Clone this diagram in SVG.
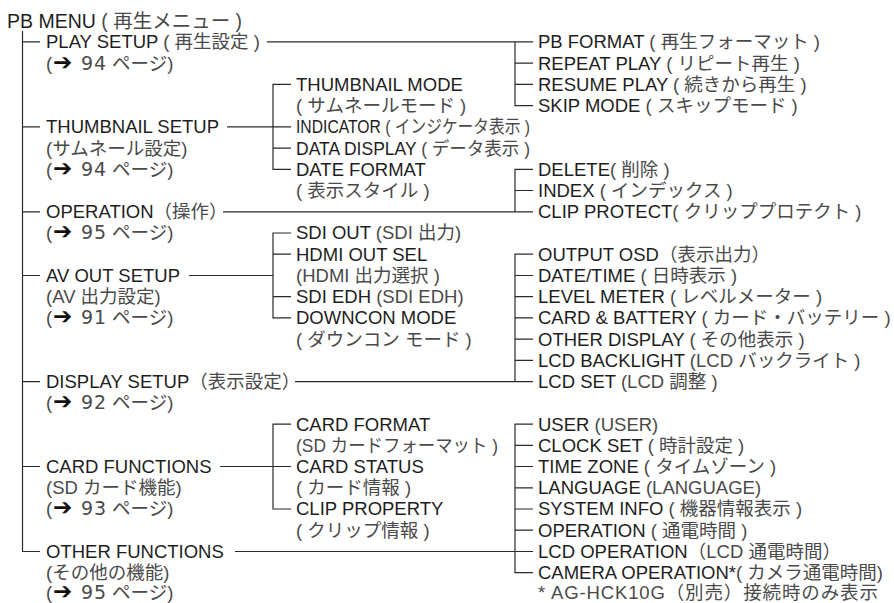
<svg xmlns="http://www.w3.org/2000/svg" width="894" height="603" viewBox="0 0 894 603">
<style>
text{font-family:"Liberation Sans","Noto Sans CJK JP",sans-serif;font-size:18.5px;fill:#1e1e1e}
.jp{fill:#4a4a4a}
.ar{font-family:"DejaVu Sans",sans-serif;font-size:23px;fill:#111}
.num{font-family:"DejaVu Sans",sans-serif;font-size:19px;letter-spacing:1px;fill:#4a4a4a}
.title{font-size:19.5px}
.c path{fill:none;stroke:#2a2a2a;stroke-width:1.2}
</style>
<rect width="894" height="603" fill="#fff"/>
<g class="c" id="connectors">
<path d="M22.5 31V551.5H40M22.5 41.9H40M22.5 126.9H40M22.5 211.8H40M22.5 275.5H40M22.5 381.6H40M22.5 466.5H40"/>
<path d="M267 41.9H533M515 41.9V105.6H533M515 63.2H533M515 84.4H533"/>
<path d="M227 126.9H291M291 84.4H273V169.3H291M273 148.1H291"/>
<path d="M223 211.8H533M533 169.3H515V211.8M515 190.5H533"/>
<path d="M189 275.5H273M291 233H273V317.9H291M273 254.2H291M273 296.7H291"/>
<path d="M295 381.6H533M533 254.2H515V381.6M515 275.5H533M515 296.7H533M515 317.9H533M515 339.2H533M515 360.4H533"/>
<path d="M220 466.5H291M291 424.1H273V509H291"/>
<path d="M235 551.5H533M533 424.1H515V572.7H533M515 445.3H533M515 466.5H533M515 487.8H533M515 509H533M515 530.2H533"/>
</g>
<g id="pb-menu"><text class="title" x="7" y="27.7">PB MENU<tspan class="jp"> ( 再生メニュー )</tspan></text></g>
<g id="play-setup"><text x="46" y="48.3">PLAY SETUP<tspan class="jp"> ( 再生設定 )</tspan></text><text x="46" y="69.6"><tspan class="jp">(</tspan><tspan class="ar" x="53">➔</tspan><tspan class="num" x="81">94</tspan><tspan class="jp" x="112">ページ)</tspan></text></g>
<g id="thumbnail-setup"><text x="46" y="133.3">THUMBNAIL SETUP</text><text x="46" y="154.5" class="jp">(サムネール設定)</text><text x="46" y="175.7"><tspan class="jp">(</tspan><tspan class="ar" x="53">➔</tspan><tspan class="num" x="81">94</tspan><tspan class="jp" x="112">ページ)</tspan></text></g>
<g id="operation"><text x="46" y="218.2">OPERATION<tspan class="jp">（操作）</tspan></text><text x="46" y="239.4"><tspan class="jp">(</tspan><tspan class="ar" x="53">➔</tspan><tspan class="num" x="81">95</tspan><tspan class="jp" x="112">ページ)</tspan></text></g>
<g id="av-out-setup"><text x="46" y="281.9">AV OUT SETUP</text><text x="46" y="303.1" class="jp">(AV 出力設定)</text><text x="46" y="324.3"><tspan class="jp">(</tspan><tspan class="ar" x="53">➔</tspan><tspan class="num" x="81">91</tspan><tspan class="jp" x="112">ページ)</tspan></text></g>
<g id="display-setup"><text x="46" y="388">DISPLAY SETUP<tspan class="jp">（表示設定）</tspan></text><text x="46" y="409.2"><tspan class="jp">(</tspan><tspan class="ar" x="53">➔</tspan><tspan class="num" x="81">92</tspan><tspan class="jp" x="112">ページ)</tspan></text></g>
<g id="card-functions"><text x="46" y="472.9">CARD FUNCTIONS</text><text x="46" y="494.2" class="jp">(SD カード機能)</text><text x="46" y="515.4"><tspan class="jp">(</tspan><tspan class="ar" x="53">➔</tspan><tspan class="num" x="81">93</tspan><tspan class="jp" x="112">ページ)</tspan></text></g>
<g id="other-functions"><text x="46" y="557.9">OTHER FUNCTIONS</text><text x="46" y="579.1" class="jp">(その他の機能)</text><text x="46" y="598.8"><tspan class="jp">(</tspan><tspan class="ar" x="53">➔</tspan><tspan class="num" x="81">95</tspan><tspan class="jp" x="112">ページ)</tspan></text></g>
<g id="thumbnail-mode"><text x="296" y="90.8">THUMBNAIL MODE</text><text x="296" y="112" class="jp">( サムネールモード )</text></g>
<g id="indicator"><text x="296" y="133.3" textLength="234" lengthAdjust="spacingAndGlyphs">INDICATOR<tspan class="jp"> ( インジケータ表示 )</tspan></text></g>
<g id="data-display"><text x="296" y="154.5" textLength="234" lengthAdjust="spacingAndGlyphs">DATA DISPLAY<tspan class="jp"> ( データ表示 )</tspan></text></g>
<g id="date-format"><text x="296" y="175.7">DATE FORMAT</text><text x="296" y="196.9" class="jp">( 表示スタイル )</text></g>
<g id="sdi-out"><text x="296" y="239.4">SDI OUT<tspan class="jp"> (SDI 出力)</tspan></text></g>
<g id="hdmi-out-sel"><text x="296" y="260.6">HDMI OUT SEL</text><text x="296" y="281.9" class="jp">(HDMI 出力選択 )</text></g>
<g id="sdi-edh"><text x="296" y="303.1">SDI EDH<tspan class="jp"> (SDI EDH)</tspan></text></g>
<g id="downcon-mode"><text x="296" y="324.3">DOWNCON MODE</text><text x="296" y="345.6" class="jp">( ダウンコン モード )</text></g>
<g id="card-format"><text x="296" y="430.5">CARD FORMAT</text><text x="296" y="451.7" class="jp" textLength="202" lengthAdjust="spacingAndGlyphs">(SD カードフォーマット )</text></g>
<g id="card-status"><text x="296" y="472.9">CARD STATUS</text><text x="296" y="494.2" class="jp">( カード情報 )</text></g>
<g id="clip-property"><text x="296" y="515.4">CLIP PROPERTY</text><text x="296" y="536.6" class="jp">( クリップ情報 )</text></g>
<g id="pb-format"><text x="538" y="48.3">PB FORMAT<tspan class="jp"> ( 再生フォーマット )</tspan></text></g>
<g id="repeat-play"><text x="538" y="69.6">REPEAT PLAY<tspan class="jp"> ( リピート再生 )</tspan></text></g>
<g id="resume-play"><text x="538" y="90.8">RESUME PLAY<tspan class="jp"> ( 続きから再生 )</tspan></text></g>
<g id="skip-mode"><text x="538" y="112">SKIP MODE<tspan class="jp"> ( スキップモード )</tspan></text></g>
<g id="delete"><text x="538" y="175.7">DELETE<tspan class="jp">( 削除 )</tspan></text></g>
<g id="index"><text x="538" y="196.9">INDEX<tspan class="jp"> ( インデックス )</tspan></text></g>
<g id="clip-protect"><text x="538" y="218.2">CLIP PROTECT<tspan class="jp">( クリッププロテクト )</tspan></text></g>
<g id="output-osd"><text x="538" y="260.6">OUTPUT OSD<tspan class="jp">（表示出力）</tspan></text></g>
<g id="date-time"><text x="538" y="281.9">DATE/TIME<tspan class="jp"> ( 日時表示 )</tspan></text></g>
<g id="level-meter"><text x="538" y="303.1">LEVEL METER<tspan class="jp"> ( レベルメーター )</tspan></text></g>
<g id="card-battery"><text x="538" y="324.3">CARD &amp; BATTERY<tspan class="jp"> ( カード・バッテリー )</tspan></text></g>
<g id="other-display"><text x="538" y="345.6">OTHER DISPLAY<tspan class="jp"> ( その他表示 )</tspan></text></g>
<g id="lcd-backlight"><text x="538" y="366.8">LCD BACKLIGHT<tspan class="jp"> (LCD バックライト )</tspan></text></g>
<g id="lcd-set"><text x="538" y="388">LCD SET<tspan class="jp"> (LCD 調整 )</tspan></text></g>
<g id="user"><text x="538" y="430.5">USER<tspan class="jp"> (USER)</tspan></text></g>
<g id="clock-set"><text x="538" y="451.7">CLOCK SET<tspan class="jp"> ( 時計設定 )</tspan></text></g>
<g id="time-zone"><text x="538" y="472.9">TIME ZONE<tspan class="jp"> ( タイムゾーン )</tspan></text></g>
<g id="language"><text x="538" y="494.2">LANGUAGE<tspan class="jp"> (LANGUAGE)</tspan></text></g>
<g id="system-info"><text x="538" y="515.4">SYSTEM INFO<tspan class="jp"> ( 機器情報表示 )</tspan></text></g>
<g id="operation-time"><text x="538" y="536.6">OPERATION<tspan class="jp"> ( 通電時間 )</tspan></text></g>
<g id="lcd-operation"><text x="538" y="557.9">LCD OPERATION<tspan class="jp">（LCD 通電時間）</tspan></text></g>
<g id="camera-operation"><text x="538" y="579.1">CAMERA OPERATION*<tspan class="jp">( カメラ通電時間)</tspan></text></g>
<g id="footnote"><text x="538" y="598.8" class="jp" textLength="340" lengthAdjust="spacing">* AG-HCK10G（別売）接続時のみ表示</text></g>
</svg>
